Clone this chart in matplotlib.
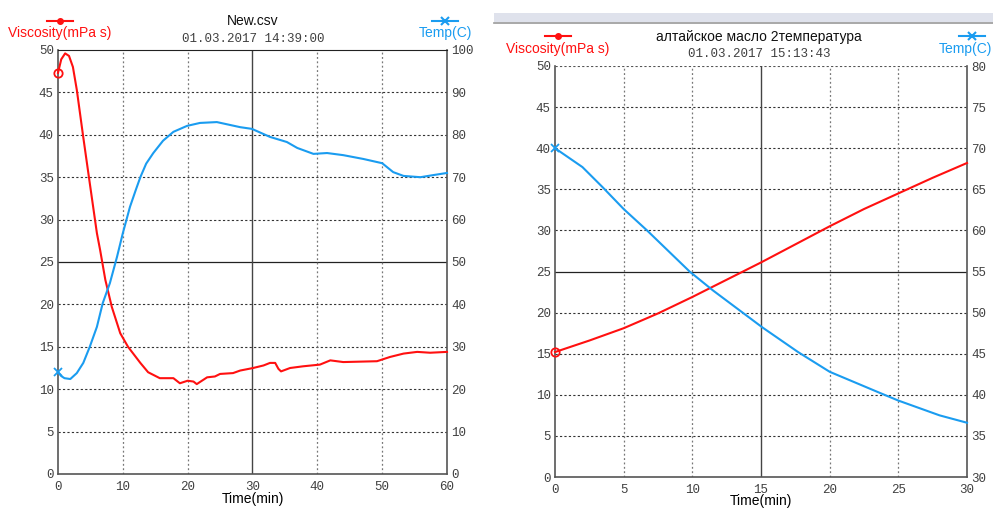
import matplotlib.pyplot as plt
from matplotlib.lines import Line2D
from matplotlib.patches import Rectangle

# left chart: New.csv
time_a = [0, 0.5, 1.1, 1.7, 2.3, 2.9, 3.9, 4.9, 6.0, 6.5, 7.3, 8.3, 9.6, 10.8,
          12.7, 13.9, 15.7, 17.8, 18.8, 20.0, 20.9, 21.4, 23.0, 24.2, 25.0, 27.0,
          28.1, 30.1, 31.7, 32.7, 33.5, 34.0, 34.4, 35.8, 37.8, 40.4, 42.0, 44.0,
          49.2, 51.2, 53.3, 55.4, 57.4, 60.0]
visc_a = [47.3, 48.9, 49.6, 49.3, 48.0, 45.3, 39.7, 34.3, 28.4, 26.4, 22.9, 19.7,
          16.6, 15.0, 13.1, 12.0, 11.3, 11.3, 10.7, 11.0, 10.9, 10.6, 11.4, 11.5,
          11.8, 11.9, 12.2, 12.5, 12.8, 13.1, 13.1, 12.4, 12.1, 12.5, 12.7, 12.9,
          13.4, 13.2, 13.3, 13.8, 14.2, 14.4, 14.3, 14.4]
temp_time_a = [0, 0.5, 1.0, 1.9, 2.9, 3.9, 4.9, 6.0, 6.9, 8.0, 9.1, 10.0, 11.1,
               12.0, 12.7, 13.6, 14.7, 16.2, 17.8, 19.9, 21.9, 24.5, 28.1, 29.9,
               32.7, 35.3, 36.9, 39.4, 41.5, 44.0, 47.1, 50.0, 51.7, 53.3, 55.9,
               57.9, 60.0]
temp_a = [24.0, 23.1, 22.6, 22.4, 23.8, 26.2, 30.0, 34.7, 40.3, 45.0, 51.2, 56.8,
          63.0, 67.0, 70.0, 73.2, 75.7, 78.6, 80.7, 82.1, 82.8, 83.0, 81.8, 81.4,
          79.5, 78.3, 76.9, 75.5, 75.7, 75.2, 74.3, 73.3, 71.2, 70.3, 70.0, 70.5,
          71.0]

# right chart: altai oil
time_b = [0, 2.5, 5, 7.5, 10, 12.5, 15, 17.5, 20, 22.5, 25, 27.5, 30]
visc_b = [15.2, 16.6, 18.1, 19.9, 21.9, 24.0, 26.1, 28.3, 30.5, 32.6, 34.5, 36.4, 38.2]
temp_time_b = [0, 2.0, 3.5, 5, 6.7, 9.8, 11.5, 13.5, 15.1, 17.7, 20, 23.7, 25, 28, 30]
temp_b = [70.0, 67.7, 65.2, 62.6, 60.0, 55.0, 52.7, 50.2, 48.2, 45.2, 42.8, 40.2,
          39.3, 37.5, 36.6]

RED = '#ff1010'
BLUE = '#1a9cf0'
W, H = 993, 509

fig = plt.figure(figsize=(W / 100, H / 100), dpi=100)


def fx(px):
    return px / W


def fy(py):
    return 1 - py / H


def make_chart(rect, t1, v1, t2, v2, xmax, xstep, ymin2, ymax2, step2, xmid,
               top_spine, label_xy):
    ax = fig.add_axes(rect)
    ax.set_xlim(0, xmax)
    ax.set_ylim(0, 50)
    ax.set_xticks(range(0, xmax + 1, xstep))
    ax.set_yticks(range(0, 51, 5))
    # grid, middle lines solid
    for y in range(5, 50, 5):
        if y == 25:
            ax.axhline(y, color='#222222', lw=0.9, zorder=1)
        else:
            ax.axhline(y, color='#333333', lw=0.8, ls=(0, (2, 2)), zorder=1)
    if not top_spine:
        ax.axhline(50, color='#555555', lw=0.8, ls=(0, (2, 2)), zorder=1)
    for x in range(xstep, xmax, xstep):
        if x == xmid:
            ax.axvline(x, color='#444444', lw=1.0, zorder=1)
        else:
            ax.axvline(x, color='#777777', lw=0.9, ls=(0, (1.5, 2)), zorder=1)
    for s in ['left', 'bottom', 'right']:
        ax.spines[s].set_color('#555555')
        ax.spines[s].set_linewidth(1.2)
    ax.spines['top'].set_visible(top_spine)
    ax.spines['top'].set_color('#222222')
    ax.tick_params(length=0, pad=3, labelsize=9, labelcolor='#404040')
    ax.tick_params(axis='x', pad=5)
    for lab in ax.get_xticklabels() + ax.get_yticklabels():
        lab.set_family('Liberation Mono')
    ax.set_xlabel('Time(min)', fontsize=10, family='Liberation Sans', va='center')
    ax.xaxis.set_label_coords(fx(label_xy[0]), fy(label_xy[1]),
                              transform=fig.transFigure)
    ax.plot(t1, v1, color=RED, lw=1.5, marker='o', markevery=[0], ms=6,
            mfc='none', mew=1.3, zorder=3, clip_on=False)

    ax2 = ax.twinx()
    ax2.set_ylim(ymin2, ymax2)
    ax2.set_yticks(range(ymin2, ymax2 + 1, step2))
    ax2.tick_params(length=0, pad=3, labelsize=9, labelcolor='#404040')
    for lab in ax2.get_yticklabels():
        lab.set_family('Liberation Mono')
    for s in ax2.spines.values():
        s.set_visible(False)
    ax2.plot(t2, v2, color=BLUE, lw=1.5, marker='x', markevery=[0], ms=6,
             mew=1.3, zorder=3, clip_on=False)
    return ax


def legend_marks(x_red, x_blue, y, half=13):
    fig.add_artist(Line2D([fx(x_red - half), fx(x_red + half)], [fy(y), fy(y)],
                          color=RED, lw=1.5))
    fig.add_artist(Line2D([fx(x_red)], [fy(y)], color=RED, marker='o', ms=4, lw=0))
    fig.add_artist(Line2D([fx(x_blue - half), fx(x_blue + half)], [fy(y), fy(y)],
                          color=BLUE, lw=1.5))
    fig.add_artist(Line2D([fx(x_blue)], [fy(y)], color=BLUE, marker='x', ms=6,
                          mew=1.5, lw=0))


# left chart
make_chart([fx(58), fy(474), fx(447 - 58), (474 - 50) / H],
           time_a, visc_a, temp_time_a, temp_a, 60, 10, 0, 100, 10, 30, True,
           (253, 499))
legend_marks(60, 445, 21)
fig.text(fx(60), fy(33), 'Viscosity(mPa s)', color=RED, fontsize=10,
         family='Liberation Sans', ha='center', va='center')
fig.text(fx(445), fy(33), 'Temp(C)', color=BLUE, fontsize=10,
         family='Liberation Sans', ha='center', va='center')
fig.text(fx(253), fy(21), 'New.csv', color='#111111', fontsize=10,
         family='Liberation Sans', ha='center', va='center')
fig.text(fx(253), fy(39), '01.03.2017 14:39:00', color='#404040', fontsize=9,
         family='Liberation Mono', ha='center', va='center')

# right chart
make_chart([fx(555), fy(477), fx(967 - 555), (477 - 66) / H],
           time_b, visc_b, temp_time_b, temp_b, 30, 5, 30, 80, 5, 15, False,
           (761, 501))
legend_marks(558, 972, 36)
fig.text(fx(558), fy(49), 'Viscosity(mPa s)', color=RED, fontsize=10,
         family='Liberation Sans', ha='center', va='center')
fig.text(fx(965), fy(49), 'Temp(C)', color=BLUE, fontsize=10,
         family='Liberation Sans', ha='center', va='center')
fig.text(fx(759), fy(37), 'алтайское масло 2температура', color='#111111',
         fontsize=10, family='Liberation Sans', ha='center', va='center')
fig.text(fx(759), fy(54), '01.03.2017 15:13:43', color='#404040', fontsize=9,
         family='Liberation Mono', ha='center', va='center')

# window strip above right chart
fig.add_artist(Rectangle((fx(494), fy(22)), 1 - fx(494), 9 / H,
                         transform=fig.transFigure, color='#dfe2ec', lw=0))
fig.add_artist(Line2D([fx(494), 1], [fy(22.5), fy(22.5)], color='#999999', lw=1.2))

fig.savefig('out.png', dpi=100)
